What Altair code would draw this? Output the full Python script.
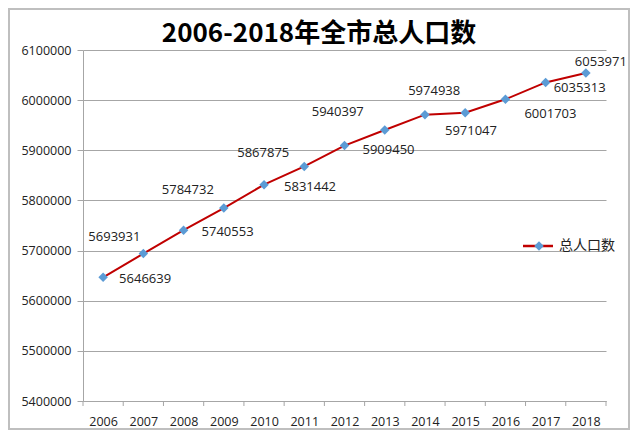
import altair as alt
import pandas as pd

# ---- data ----
years = list(range(2006, 2019))
population = [5646639, 5693931, 5740553, 5784732, 5831442, 5867875, 5909450,
              5940397, 5971047, 5974938, 6001703, 6035313, 6053971]
y_tick_values = list(range(5400000, 6100001, 100000))
x_tick_marks = [2005.5 + i for i in range(14)]
title_text = "2006-2018年全市总人口数"
series_name = "总人口数"

# ---- label offsets in pixels (style) ----
label_dx = [42, -29, 44, -36, 46, -41, 44, -47, 46, -31, 45, 34, 15]
label_dy = [2, -17, 2, -18, 2, -13, 4, -18, 16, -22, 15, 6, -11]

W, H = 523, 351
X_DOMAIN = [2005.5, 2018.5]
Y_DOMAIN = [5400000, 6100000]
px_x = (X_DOMAIN[1] - X_DOMAIN[0]) / W
px_y = (Y_DOMAIN[1] - Y_DOMAIN[0]) / H

LINE_COLOR = "#C00000"
MARK_COLOR = "#5B9BD5"
GRID = "#A6A6A6"
TEXT = "#222222"
FONT = "Open Sans"
CJK = "Noto Sans CJK SC"

df = pd.DataFrame({
    "year": years,
    "pop": population,
    "lx": [y + dx * px_x for y, dx in zip(years, label_dx)],
    "ly": [v - dy * px_y for v, dy in zip(population, label_dy)],
    "label": [str(v) for v in population],
})
ticks_df = pd.DataFrame({"t": x_tick_marks})
one = pd.DataFrame({"a": [0]})

xscale = alt.Scale(domain=X_DOMAIN, nice=False, zero=False)
yscale = alt.Scale(domain=Y_DOMAIN, nice=False, zero=False)

x_axis = alt.Axis(values=years, format="d", ticks=False, grid=False,
                  domainColor=GRID, domainWidth=1, labelPadding=14,
                  labelFont=FONT, labelFontSize=12.5, labelColor=TEXT,
                  labelFlush=False)
y_axis = alt.Axis(values=y_tick_values, format="d", tickSize=6,
                  tickColor=GRID, domainColor=GRID, gridColor=GRID,
                  gridWidth=1, labelPadding=6, labelFont=FONT,
                  labelFontSize=12.5, labelColor=TEXT)


def X(field):
    return alt.X(field, scale=xscale, title=None, axis=x_axis)


def Y(field):
    return alt.Y(field, scale=yscale, title=None, axis=y_axis)


border = alt.Chart(one).mark_rect(filled=False, stroke="#BFBFBF", strokeWidth=2).encode(
    x=alt.value(-74), x2=alt.value(546), y=alt.value(-41), y2=alt.value(379))

line = alt.Chart(df).mark_line(color=LINE_COLOR, strokeWidth=2).encode(
    x=X("year:Q"), y=Y("pop:Q"))
points = alt.Chart(df).mark_point(shape="diamond", filled=True, color=MARK_COLOR,
                                  size=90, opacity=1).encode(
    x=X("year:Q"), y=Y("pop:Q"))

labels = alt.Chart(df).mark_text(font=FONT, fontSize=13, color=TEXT,
                                 baseline="middle", align="center").encode(
    x=X("lx:Q"), y=Y("ly:Q"), text="label:N")

xticks = alt.Chart(ticks_df).mark_rule(color=GRID, strokeWidth=1).encode(
    x=X("t:Q"), y=alt.value(H), y2=alt.value(H + 5))

title = alt.Chart(one).mark_text(text=title_text, font=CJK, fontSize=26,
                                 fontWeight="bold", color="#000000",
                                 align="center", baseline="middle").encode(
    x=alt.value(236), y=alt.value(-16))

leg_line = alt.Chart(one).mark_rule(color=LINE_COLOR, strokeWidth=2.5).encode(
    x=alt.value(440), x2=alt.value(470), y=alt.value(196))
leg_pt = alt.Chart(one).mark_point(shape="diamond", filled=True, color=MARK_COLOR,
                                   size=90, opacity=1).encode(
    x=alt.value(456), y=alt.value(196))
leg_txt = alt.Chart(one).mark_text(text=series_name, font=CJK, fontSize=14,
                                   color=TEXT, align="left", baseline="middle").encode(
    x=alt.value(476), y=alt.value(196))

chart = alt.layer(border, xticks, line, points, labels, title,
                  leg_line, leg_pt, leg_txt).properties(
    width=W, height=H, padding=0
).configure_view(stroke=None)

chart.save("out.html", embed_options={"renderer": "svg", "actions": False})
